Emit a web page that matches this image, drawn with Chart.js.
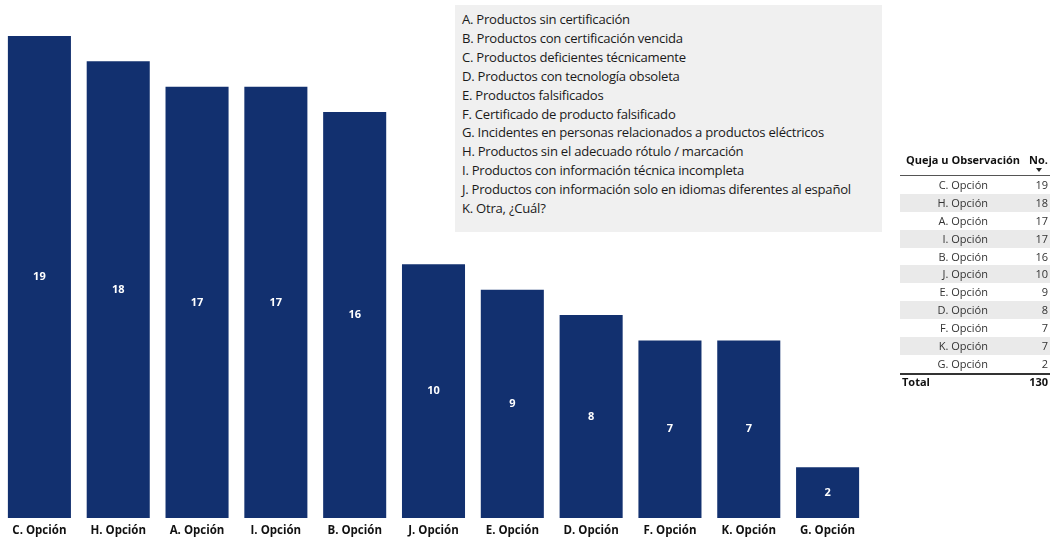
<!DOCTYPE html>
<html>
<head>
<meta charset="utf-8">
<script src="https://cdn.jsdelivr.net/npm/chart.js@4"></script>
<style>
  body { margin: 0; background: #fff; font-family: "Open Sans", sans-serif; }
  #wrap { position: relative; width: 1055px; height: 539px; }
  #legendBox {
    position: absolute; left: 455px; top: 5px; width: 427px; height: 227px;
    background: #f0f0f0; box-sizing: border-box; padding: 5px 0 0 7px;
    font-size: 13.1px; line-height: 18.9px; color: #1a1a1a; letter-spacing: -0.25px;
  }
  #tbl { position: absolute; left: 900px; top: 151px; width: 150px; font-size: 11px; color: #333; }
  #tbl .row { display: flex; height: 17.9px; line-height: 17.9px; }
  #tbl .row.alt { background: #eaeaea; }
  #tbl .lab { width: 88px; text-align: right; }
  #tbl .num { flex: 1; text-align: right; padding-right: 2px; }
  #tbl .head { font-weight: bold; color: #111; height: 24px; line-height: 18px; border-bottom: 1px solid #555; position: relative; }
  #tbl .head .lab { width: 121px; text-align: left; padding-left: 6px; }
  #tbl .tot { font-weight: bold; color: #111; border-top: 2px solid #333; height: 14px; line-height: 14px; }
  #tbl .tot .lab { text-align: left; width: 60px; padding-left: 2px; }
  .arrow { position: absolute; right: 8px; top: 17px; width: 0; height: 0;
    border-left: 3px solid transparent; border-right: 3px solid transparent; border-top: 4px solid #222; }
</style>
</head>
<body>
<div id="wrap">
  <canvas id="barChart" width="1055" height="539"></canvas>
  <div id="legendBox"></div>
  <div id="tbl"></div>
</div>
<script>
const categories = ['C. Opción', 'H. Opción', 'A. Opción', 'I. Opción', 'B. Opción', 'J. Opción',
                    'E. Opción', 'D. Opción', 'F. Opción', 'K. Opción', 'G. Opción'];
const counts = [19, 18, 17, 17, 16, 10, 9, 8, 7, 7, 2];
const optionNames = [
  'A. Productos sin certificación',
  'B. Productos con certificación vencida',
  'C. Productos deficientes técnicamente',
  'D. Productos con tecnología obsoleta',
  'E. Productos falsificados',
  'F. Certificado de producto falsificado',
  'G. Incidentes en personas relacionados a productos eléctricos',
  'H. Productos sin el adecuado rótulo / marcación',
  'I. Productos con información técnica incompleta',
  'J. Productos con información solo en idiomas diferentes al español',
  'K. Otra, ¿Cuál?'
];
const barColor = '#12306f';

// option list box
document.getElementById('legendBox').innerHTML = optionNames.map(t => '<div>' + t + '</div>').join('');

// table on the right
let html = '<div class="row head"><span class="lab">Queja u Observación</span><span class="num">No.</span><span class="arrow"></span></div>';
categories.forEach((c, i) => {
  html += '<div class="row' + (i % 2 ? ' alt' : '') + '"><span class="lab">' + c + '</span><span class="num">' + counts[i] + '</span></div>';
});
html += '<div class="row tot"><span class="lab">Total</span><span class="num">' + counts.reduce((a, b) => a + b, 0) + '</span></div>';
document.getElementById('tbl').innerHTML = html;

// value labels in the middle of the bars
const barLabels = {
  id: 'barLabels',
  afterDatasetsDraw(chart) {
    const ctx = chart.ctx;
    const meta = chart.getDatasetMeta(0);
    ctx.save();
    ctx.fillStyle = '#fff';
    ctx.font = 'bold 11px "Open Sans"';
    ctx.textAlign = 'center';
    ctx.textBaseline = 'middle';
    meta.data.forEach((bar, i) => {
      ctx.fillText(counts[i], bar.x, (bar.y + bar.base) / 2);
    });
    ctx.restore();
  }
};

const ctx = document.getElementById('barChart');
new Chart(ctx, {
  type: 'bar',
  data: {
    labels: categories,
    datasets: [{
      data: counts,
      backgroundColor: barColor,
      barPercentage: 0.8,
      categoryPercentage: 1
    }]
  },
  options: {
    responsive: false,
    animation: false,
    layout: { padding: { left: 0, right: 188, top: 36, bottom: 2 } },
    plugins: { legend: { display: false }, tooltip: { enabled: false } },
    scales: {
      x: {
        grid: { display: false, drawTicks: false },
        border: { display: false },
        afterFit: axis => { axis.height = 19; },
        ticks: { color: '#111', font: { family: 'Open Sans', size: 11.5, weight: 'bold' }, padding: 6, maxRotation: 0 }
      },
      y: {
        display: false,
        min: 0,
        max: 19
      }
    }
  },
  plugins: [barLabels]
});
</script>
</body>
</html>
